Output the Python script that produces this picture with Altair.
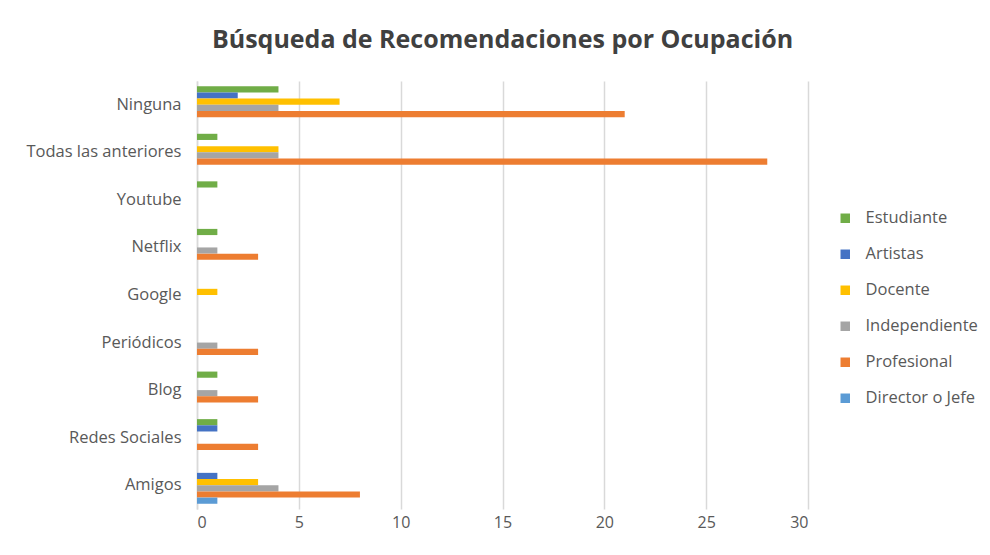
import altair as alt
import pandas as pd

categories = ["Ninguna", "Todas las anteriores", "Youtube", "Netflix", "Google",
              "Periódicos", "Blog", "Redes Sociales", "Amigos"]
series = ["Estudiante", "Artistas", "Docente", "Independiente", "Profesional", "Director o Jefe"]
colors = ["#70AD47", "#4472C4", "#FFC000", "#A5A5A5", "#ED7D31", "#5B9BD5"]

estudiante = [4, 1, 1, 1, 0, 0, 1, 1, 0]
artistas = [2, 0, 0, 0, 0, 0, 0, 1, 1]
docente = [7, 4, 0, 0, 1, 0, 0, 0, 3]
independiente = [4, 4, 0, 1, 0, 1, 1, 0, 4]
profesional = [21, 28, 0, 3, 0, 3, 3, 3, 8]
director = [0, 0, 0, 0, 0, 0, 0, 0, 1]

values = [estudiante, artistas, docente, independiente, profesional, director]
rows = []
for s, vals in zip(series, values):
    for c, v in zip(categories, vals):
        rows.append({"categoria": c, "serie": s, "valor": v})
df = pd.DataFrame(rows)

FONT = "Open Sans"

chart = alt.Chart(df).mark_bar().encode(
    y=alt.Y("categoria:N", sort=categories, title=None,
            scale=alt.Scale(paddingInner=0.22, paddingOuter=0.11),
            axis=alt.Axis(labelFontSize=16.5, labelColor="#595959", labelFont=FONT,
                          ticks=False, domain=True, domainColor="#D9D9D9", domainWidth=1.5,
                          labelPadding=16)),
    yOffset=alt.YOffset("serie:N", sort=series,
                        scale=alt.Scale(paddingInner=0, paddingOuter=0)),
    x=alt.X("valor:Q", title=None, scale=alt.Scale(domain=[0, 30], nice=False),
            axis=alt.Axis(values=[0, 5, 10, 15, 20, 25, 30], labelFontSize=16,
                          labelColor="#595959", labelFont=FONT, ticks=False,
                          domain=False, grid=True, gridColor="#D9D9D9", gridWidth=1.5,
                          labelPadding=5)),
    color=alt.Color("serie:N", sort=series,
                    scale=alt.Scale(domain=series, range=colors),
                    legend=alt.Legend(title=None, orient="none", legendX=640, legendY=129,
                                      symbolType="square", symbolSize=90,
                                      symbolStrokeWidth=0,
                                      labelFontSize=16.5, labelColor="#595959",
                                      labelFont=FONT, rowPadding=19, labelOffset=12)),
).properties(
    width=611,
    height=428,
    title=alt.TitleParams("Búsqueda de Recomendaciones por Ocupación", fontSize=25,
                          font=FONT, fontWeight="bold", color="#404040",
                          anchor="middle", offset=28),
    autosize=alt.AutoSizeParams(type="none"),
    padding={"left": 189, "top": 73, "right": 174, "bottom": 38},
).configure_view(stroke=None)

chart.save("out.html", embed_options={"renderer": "svg", "actions": False})
